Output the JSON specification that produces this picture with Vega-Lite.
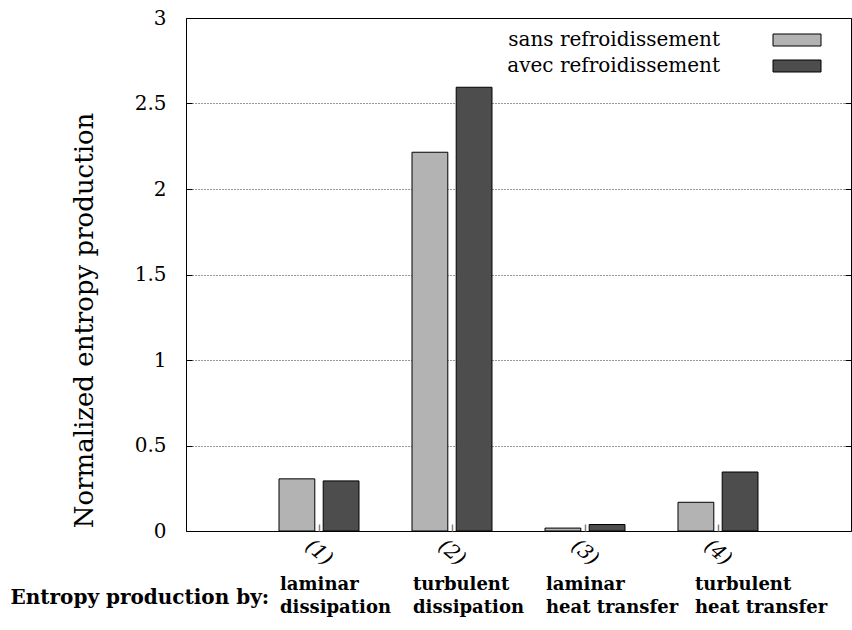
{
  "$schema": "https://vega.github.io/schema/vega-lite/v6.json",
  "width": 665,
  "height": 513,
  "autosize": {"type": "none"},
  "padding": {"left": 186, "top": 18, "right": 1, "bottom": 99},
  "background": "white",
  "config": {
    "view": {"stroke": "black", "strokeWidth": 1},
    "font": "DejaVu Serif",
    "axis": {"labelFont": "DejaVu Serif", "titleFont": "DejaVu Serif", "labelColor": "black", "titleColor": "black"},
    "legend": {"labelFont": "DejaVu Serif"}
  },
  "data": {
    "values": [
      {"group": "1", "series": "sans refroidissement", "value": 0.305},
      {"group": "1", "series": "avec refroidissement", "value": 0.293},
      {"group": "2", "series": "sans refroidissement", "value": 2.215},
      {"group": "2", "series": "avec refroidissement", "value": 2.595},
      {"group": "3", "series": "sans refroidissement", "value": 0.017},
      {"group": "3", "series": "avec refroidissement", "value": 0.038},
      {"group": "4", "series": "sans refroidissement", "value": 0.168},
      {"group": "4", "series": "avec refroidissement", "value": 0.345}
    ]
  },
  "layer": [
    {
      "mark": {"type": "bar", "stroke": "black", "strokeWidth": 1},
      "encoding": {
        "x": {
          "field": "group", "type": "nominal",
          "scale": {"paddingInner": 0, "paddingOuter": 0.5},
          "axis": {
            "orient": "bottom", "title": null, "domain": false, "grid": false,
            "tickSize": -7, "tickColor": "#808080", "tickWidth": 1.5,
            "labelExpr": "'(' + datum.label + ')'",
            "labelAngle": 40, "labelAlign": "center", "labelBaseline": "middle",
            "labelPadding": 28, "labelFontSize": 20, "labelFontStyle": "italic"
          }
        },
        "xOffset": {
          "field": "series", "type": "nominal",
          "sort": ["sans refroidissement", "avec refroidissement"],
          "scale": {"paddingInner": 0.19, "paddingOuter": 0.6}
        },
        "y": {
          "field": "value", "type": "quantitative",
          "scale": {"domain": [0, 3], "nice": false, "zero": true},
          "axis": {
            "title": "Normalized entropy production",
            "titleFontSize": 26, "titleFontWeight": "normal",
            "titleX": -94, "titleY": 302, "titleAngle": -90,
            "titleAlign": "center", "titleBaseline": "alphabetic",
            "values": [0, 0.5, 1, 1.5, 2, 2.5, 3], "format": "~g",
            "labelFontSize": 20, "labelPadding": 26,
            "domain": false, "tickSize": -6, "tickColor": "black",
            "grid": true, "gridDash": [1, 2], "gridColor": "black", "gridOpacity": 0.8
          }
        },
        "color": {
          "field": "series", "type": "nominal",
          "scale": {"domain": ["sans refroidissement", "avec refroidissement"], "range": ["#b3b3b3", "#4d4d4d"]},
          "legend": {
            "title": null, "orient": "none", "legendX": 601, "legendY": 12,
            "direction": "vertical", "padding": 0,
            "symbolType": "M-4,-1H4V1H-4Z", "symbolSize": 144,
            "symbolStrokeColor": "black", "symbolStrokeWidth": 1, "symbolOpacity": 1,
            "labelAlign": "right", "labelOffset": -87, "labelFontSize": 20,
            "labelColor": "black", "labelLimit": 0,
            "rowPadding": 6
          }
        }
      }
    },
    {
      "mark": {"type": "bar", "opacity": 0},
      "encoding": {
        "x": {
          "field": "group", "type": "nominal",
          "axis": {
            "orient": "bottom", "domain": false, "ticks": false, "grid": false,
            "title": "Entropy production by:",
            "titleFontSize": 20, "titleFontWeight": "bold",
            "titleAnchor": "start", "titleAlign": "left", "titleBaseline": "alphabetic",
            "titleX": -176, "titleY": 72, "titleAngle": 0,
            "labelExpr": "datum.value == '1' ? ['laminar', 'dissipation'] : datum.value == '2' ? ['turbulent', 'dissipation'] : datum.value == '3' ? ['laminar', 'heat transfer'] : ['turbulent', 'heat transfer']",
            "labelAngle": 0, "labelAlign": "left", "labelBaseline": "top",
            "labelOffset": {"expr": "datum.value == '4' ? -23 : -39"},
            "labelPadding": 44, "labelFontSize": 18, "labelFontWeight": "bold",
            "labelLineHeight": 23
          }
        },
        "y": {
          "field": "value", "type": "quantitative",
          "axis": {
            "orient": "right", "title": null, "labels": false, "domain": false, "grid": false,
            "values": [0, 0.5, 1, 1.5, 2, 2.5, 3], "tickSize": -6, "tickColor": "black"
          }
        }
      }
    }
  ],
  "resolve": {"axis": {"x": "independent", "y": "independent"}}
}
